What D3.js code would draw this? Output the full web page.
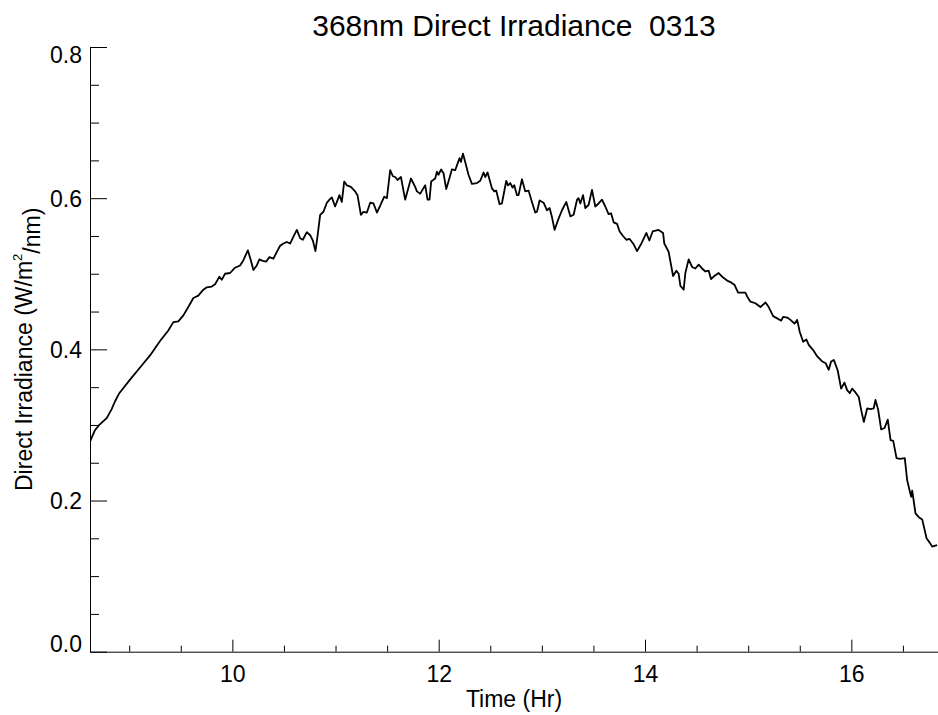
<!DOCTYPE html>
<html>
<head>
<meta charset="utf-8">
<script src="https://cdn.jsdelivr.net/npm/d3@7"></script>
<style>
  body { margin: 0; background: #fff; }
  text { font-family: "Liberation Sans", Arial, Helvetica, sans-serif; fill: #000; }
</style>
</head>
<body>
<div id="app"></div>
<script>
// time (hr) and direct irradiance (W/m2/nm)
const hours = [
  8.620, 8.668, 8.710, 8.782, 8.830, 8.862, 8.904, 9.008, 9.105, 9.202,
  9.299, 9.379, 9.428, 9.476, 9.525, 9.573, 9.622, 9.670, 9.719, 9.752,
  9.800, 9.832, 9.874, 9.897, 9.929, 9.978, 10.026, 10.075, 10.107, 10.150,
  10.179, 10.204, 10.237, 10.262, 10.295, 10.327, 10.359, 10.398, 10.431, 10.463,
  10.495, 10.528, 10.560, 10.592, 10.625, 10.657, 10.683, 10.722, 10.754, 10.780,
  10.805, 10.825, 10.851, 10.883, 10.916, 10.941, 10.964, 10.996, 11.038, 11.061,
  11.084, 11.110, 11.149, 11.190, 11.213, 11.246, 11.271, 11.304, 11.336, 11.368,
  11.401, 11.433, 11.472, 11.498, 11.530, 11.556, 11.578, 11.601, 11.634, 11.675,
  11.731, 11.772, 11.789, 11.821, 11.869, 11.892, 11.911, 11.927, 11.966, 11.983,
  11.998, 12.024, 12.047, 12.073, 12.095, 12.128, 12.160, 12.202, 12.216, 12.235,
  12.257, 12.289, 12.322, 12.371, 12.403, 12.435, 12.451, 12.474, 12.516, 12.539,
  12.558, 12.590, 12.613, 12.655, 12.671, 12.694, 12.716, 12.732, 12.759, 12.774,
  12.807, 12.839, 12.871, 12.904, 12.936, 12.953, 12.978, 13.017, 13.050, 13.075,
  13.098, 13.123, 13.162, 13.195, 13.237, 13.276, 13.308, 13.341, 13.356, 13.373,
  13.399, 13.421, 13.453, 13.486, 13.518, 13.550, 13.583, 13.615, 13.647, 13.671,
  13.696, 13.729, 13.754, 13.787, 13.819, 13.851, 13.890, 13.923, 13.961, 14.013,
  14.042, 14.074, 14.132, 14.175, 14.187, 14.229, 14.272, 14.304, 14.326, 14.343,
  14.375, 14.391, 14.423, 14.456, 14.488, 14.520, 14.553, 14.585, 14.617, 14.640,
  14.672, 14.714, 14.757, 14.796, 14.828, 14.869, 14.902, 14.973, 14.990, 15.022,
  15.070, 15.119, 15.168, 15.199, 15.242, 15.281, 15.320, 15.339, 15.378, 15.410,
  15.449, 15.475, 15.500, 15.533, 15.565, 15.587, 15.630, 15.668, 15.717, 15.749,
  15.781, 15.804, 15.830, 15.868, 15.901, 15.933, 15.959, 15.985, 16.008, 16.040,
  16.072, 16.095, 16.121, 16.154, 16.185, 16.217, 16.234, 16.260, 16.289, 16.322,
  16.353, 16.380, 16.406, 16.438, 16.470, 16.518, 16.541, 16.567, 16.580, 16.590,
  16.622, 16.654, 16.687, 16.729, 16.761, 16.784, 16.806, 16.832
];
const irradiance = [
  0.278, 0.293, 0.300, 0.309, 0.321, 0.331, 0.342, 0.360, 0.376, 0.392,
  0.411, 0.425, 0.436, 0.437, 0.445, 0.456, 0.468, 0.471, 0.479, 0.482,
  0.483, 0.486, 0.496, 0.492, 0.500, 0.501, 0.508, 0.511, 0.518, 0.531,
  0.518, 0.505, 0.511, 0.519, 0.517, 0.516, 0.522, 0.520, 0.529, 0.537,
  0.540, 0.542, 0.540, 0.549, 0.558, 0.547, 0.545, 0.555, 0.551, 0.544,
  0.530, 0.549, 0.578, 0.582, 0.594, 0.598, 0.601, 0.589, 0.604, 0.595,
  0.622, 0.617, 0.615, 0.609, 0.604, 0.578, 0.582, 0.581, 0.594, 0.593,
  0.581, 0.590, 0.602, 0.600, 0.637, 0.629, 0.628, 0.624, 0.628, 0.598,
  0.626, 0.615, 0.609, 0.606, 0.617, 0.598, 0.598, 0.622, 0.626, 0.635,
  0.631, 0.638, 0.633, 0.612, 0.622, 0.638, 0.637, 0.653, 0.648, 0.659,
  0.648, 0.631, 0.619, 0.620, 0.623, 0.634, 0.628, 0.634, 0.613, 0.609,
  0.610, 0.592, 0.593, 0.623, 0.617, 0.620, 0.614, 0.617, 0.604, 0.604,
  0.625, 0.609, 0.610, 0.595, 0.581, 0.582, 0.597, 0.594, 0.584, 0.587,
  0.575, 0.558, 0.573, 0.584, 0.595, 0.576, 0.578, 0.598, 0.600, 0.593,
  0.604, 0.587, 0.591, 0.611, 0.589, 0.593, 0.598, 0.589, 0.579, 0.580,
  0.568, 0.566, 0.556, 0.550, 0.545, 0.546, 0.539, 0.530, 0.539, 0.554,
  0.544, 0.556, 0.558, 0.554, 0.540, 0.529, 0.497, 0.504, 0.500, 0.484,
  0.479, 0.501, 0.519, 0.509, 0.507, 0.512, 0.507, 0.503, 0.504, 0.493,
  0.497, 0.501, 0.495, 0.491, 0.489, 0.485, 0.475, 0.475, 0.470, 0.463,
  0.461, 0.456, 0.462, 0.456, 0.444, 0.441, 0.438, 0.443, 0.442, 0.439,
  0.434, 0.439, 0.423, 0.410, 0.413, 0.406, 0.399, 0.391, 0.384, 0.382,
  0.373, 0.384, 0.386, 0.372, 0.348, 0.356, 0.346, 0.342, 0.348, 0.343,
  0.337, 0.320, 0.304, 0.322, 0.321, 0.322, 0.333, 0.320, 0.294, 0.296,
  0.307, 0.280, 0.279, 0.256, 0.255, 0.256, 0.227, 0.212, 0.205, 0.213,
  0.183, 0.178, 0.175, 0.150, 0.144, 0.139, 0.140, 0.141
];
const xMajorTicks = [10, 12, 14, 16];
const xMinorTicks = [9, 9.5, 10.5, 11, 11.5, 12.5, 13, 13.5, 14.5, 15, 15.5, 16.5];
const yMajorTicks = [0.0, 0.2, 0.4, 0.6, 0.8];
const yMinorTicks = [0.05, 0.1, 0.15, 0.25, 0.3, 0.35, 0.45, 0.5, 0.55, 0.65, 0.7, 0.75];
const xDomain = [8.62, 16.84];
const yDomain = [0, 0.8];

const width = 938, height = 715;
const plotLeft = 90, plotRight = 938, plotTop = 47, plotBottom = 651.7;

const svg = d3.select("#app")
  .append("svg")
    .attr("width", width)
    .attr("height", height);

const x = d3.scaleLinear().domain(xDomain).range([plotLeft, plotRight]);
const y = d3.scaleLinear().domain(yDomain).range([plotBottom, plotTop]);

// x axis: major ticks with labels, pointing inward
const xAxis = svg.append("g")
  .attr("transform", "translate(0," + plotBottom + ")")
  .call(d3.axisBottom(x)
    .tickValues(xMajorTicks)
    .tickFormat(d3.format("d"))
    .tickSizeInner(-12)
    .tickSizeOuter(0)
    .tickPadding(14));
xAxis.selectAll("text").attr("font-size", 23);

svg.append("g")
  .attr("transform", "translate(0," + plotBottom + ")")
  .call(d3.axisBottom(x)
    .tickValues(xMinorTicks)
    .tickFormat("")
    .tickSizeInner(-6)
    .tickSizeOuter(0))
  .select(".domain").remove();

// y axis
const yAxis = svg.append("g")
  .attr("transform", "translate(" + plotLeft + ",0)")
  .call(d3.axisLeft(y)
    .tickValues(yMajorTicks)
    .tickFormat(d3.format(".1f"))
    .tickSizeInner(-17)
    .tickSizeOuter(0)
    .tickPadding(8));
yAxis.selectAll("text")
  .attr("font-size", 23)
  .attr("dy", d => d === 0 ? "0em" : (d === 0.8 ? "0.66em" : "0.36em"));

svg.append("g")
  .attr("transform", "translate(" + plotLeft + ",0)")
  .call(d3.axisLeft(y)
    .tickValues(yMinorTicks)
    .tickFormat("")
    .tickSizeInner(-9)
    .tickSizeOuter(0))
  .select(".domain").remove();

svg.selectAll(".domain, .tick line")
  .attr("stroke", "#000")
  .attr("stroke-width", 1);

// the data line
svg.append("clipPath")
  .attr("id", "plotclip")
  .append("rect")
    .attr("x", plotLeft).attr("y", plotTop - 5)
    .attr("width", plotRight - plotLeft).attr("height", plotBottom - plotTop + 5);

const line = d3.line()
  .x((d, i) => x(hours[i]))
  .y(d => y(d));

svg.append("path")
  .datum(irradiance)
  .attr("clip-path", "url(#plotclip)")
  .attr("fill", "none")
  .attr("stroke", "#000")
  .attr("stroke-width", 1.8)
  .attr("stroke-linejoin", "round")
  .attr("d", line);

// titles
svg.append("text")
  .attr("x", (plotLeft + plotRight) / 2)
  .attr("y", 36)
  .attr("text-anchor", "middle")
  .attr("font-size", 30)
  .style("white-space", "pre")
  .text("368nm Direct Irradiance  0313");

svg.append("text")
  .attr("x", (plotLeft + plotRight) / 2)
  .attr("y", 707)
  .attr("text-anchor", "middle")
  .attr("font-size", 23)
  .text("Time (Hr)");

const ylab = svg.append("text")
  .attr("transform", "translate(32," + ((plotTop + plotBottom) / 2) + ") rotate(-90)")
  .attr("text-anchor", "middle")
  .attr("font-size", 23);
ylab.append("tspan").text("Direct Irradiance (W/m");
ylab.append("tspan").attr("font-size", 13).attr("dy", "-0.8em").text("2");
ylab.append("tspan").attr("dy", "0.8em").text("/nm)");
</script>
</body>
</html>
